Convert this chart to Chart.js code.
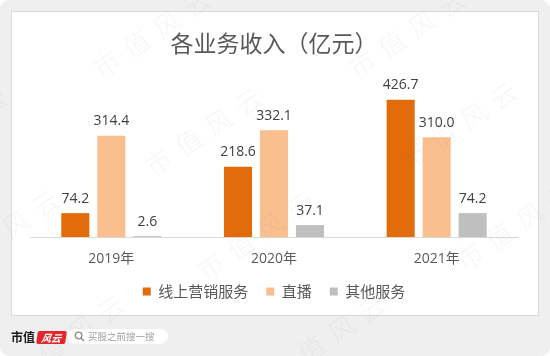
<!DOCTYPE html>
<html>
<head>
<meta charset="utf-8">
<script src="https://cdn.jsdelivr.net/npm/chart.js@4.4.1/dist/chart.umd.min.js"></script>
<style>
html,body{margin:0;padding:0;background:#fff;width:550px;height:356px;overflow:hidden;}
#card{position:absolute;left:0;top:0;width:550px;height:356px;background:#efefef;border-radius:9px;overflow:hidden;}
#panel{position:absolute;left:11px;top:11px;width:526px;height:303px;background:#fff;border:1px solid #d9d9d9;}
#chart{position:absolute;left:0;top:0;}
#footer-logo{position:absolute;left:11px;top:328px;font:bold 12px "Noto Sans CJK SC",sans-serif;color:#1a1a1a;}
#badge{position:absolute;left:37px;top:331px;width:29px;height:13px;background:#e3262b;border-radius:2px;color:#fff;font:italic bold 10px "Noto Sans CJK SC",sans-serif;line-height:13px;text-align:center;transform:skewX(-8deg);}
#pill{position:absolute;left:68px;top:329px;width:100px;height:15px;background:#fff;border-radius:8px;}
#pill svg{position:absolute;left:6px;top:2px;}
#pill span{position:absolute;left:20px;top:0px;font:9.5px "Noto Sans CJK SC",sans-serif;color:#a0a0a0;line-height:15px;}
#wm{position:absolute;left:0;top:0;width:550px;height:356px;pointer-events:none;overflow:hidden;}
#wm span{position:absolute;width:150px;height:30px;line-height:30px;text-align:center;font-family:"Noto Sans CJK SC",sans-serif;font-size:26px;font-weight:300;letter-spacing:10px;color:rgba(120,120,120,0.065);transform:rotate(-34deg);transform-origin:50% 50%;white-space:nowrap;}
</style>
</head>
<body>
<div id="card">
  <div id="panel"></div>
  <canvas id="chart" width="550" height="356"></canvas>
  <div id="footer-logo">市值</div>
  <div id="badge">风云</div>
  <div id="pill">
    <svg width="11" height="11" viewBox="0 0 11 11"><circle cx="4.5" cy="4.5" r="3.3" fill="none" stroke="#888" stroke-width="1.3"/><line x1="7" y1="7" x2="10" y2="10" stroke="#888" stroke-width="1.4"/></svg>
    <span>买股之前搜一搜</span>
  </div>
  <div id="wm"></div>
</div>
<script>
const categories = ['2019年', '2020年', '2021年'];
const seriesNames = ['线上营销服务', '直播', '其他服务'];
const onlineMarketing = [74.2, 218.6, 426.7];
const liveStreaming = [314.4, 332.1, 310.0];
const otherServices = [2.6, 37.1, 74.2];
const chartTitle = '各业务收入（亿元）';

const colors = ['#E36C0A', '#F9BF8F', '#BFBFBF'];

const valueLabels = {
  id: 'valueLabels',
  afterDatasetsDraw(chart) {
    const ctx = chart.ctx;
    ctx.save();
    ctx.font = '14px "Open Sans", "Noto Sans CJK SC", sans-serif';
    ctx.fillStyle = '#404040';
    ctx.textAlign = 'center';
    ctx.textBaseline = 'alphabetic';
    chart.data.datasets.forEach((ds, i) => {
      chart.getDatasetMeta(i).data.forEach((bar, j) => {
        ctx.fillText(ds.data[j].toFixed(1), bar.x, bar.y - 10.5);
      });
    });
    ctx.restore();
  }
};

new Chart(document.getElementById('chart'), {
  type: 'bar',
  data: {
    labels: categories,
    datasets: [
      { label: seriesNames[0], data: onlineMarketing, backgroundColor: colors[0] },
      { label: seriesNames[1], data: liveStreaming, backgroundColor: colors[1] },
      { label: seriesNames[2], data: otherServices, backgroundColor: colors[2] }
    ]
  },
  options: {
    responsive: false,
    animation: false,
    devicePixelRatio: 1,
    layout: { padding: { left: 30, right: 32, top: 0, bottom: 47 } },
    datasets: { bar: { categoryPercentage: 0.664, barPercentage: 0.78 } },
    scales: {
      x: {
        grid: { display: false, drawTicks: false },
        border: { display: true, color: '#d9d9d9', width: 1 },
        ticks: { color: '#595959', padding: 14, font: { size: 14, family: '"Open Sans", "Noto Sans CJK SC", sans-serif' } },
        afterFit(scale) { scale.height = 29; }
      },
      y: { display: false, min: 0, max: 500 }
    },
    plugins: {
      title: {
        display: true,
        text: chartTitle,
        color: '#595959',
        font: { size: 23, weight: 'normal', family: '"Noto Sans CJK SC", sans-serif' },
        padding: { top: 29.5, bottom: 19 }
      },
      legend: {
        position: 'bottom',
        labels: {
          boxWidth: 8, boxHeight: 8, padding: 18,
          color: '#595959',
          font: { size: 15, family: '"Noto Sans CJK SC", sans-serif' }
        }
      },
      tooltip: { enabled: false }
    }
  },
  plugins: [valueLabels]
});

// faint diagonal watermark
const wmCenters = [
  [155, 30], [410, 30],
  [-48, 128], [207, 128], [462, 122],
  [4, 230], [259, 232], [518, 222],
  [70, 335], [330, 335], [585, 335]
];
const wm = document.getElementById('wm');
wmCenters.forEach(([cx, cy]) => {
  const s = document.createElement('span');
  s.textContent = '市值风云';
  s.style.left = (cx - 75) + 'px';
  s.style.top = (cy - 15) + 'px';
  wm.appendChild(s);
});
</script>
</body>
</html>
